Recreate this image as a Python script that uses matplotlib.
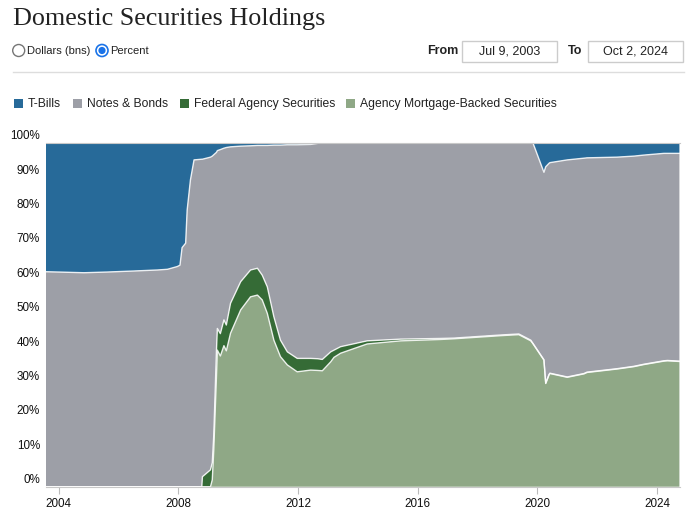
import matplotlib.pyplot as plt
from matplotlib.patches import Rectangle, Circle
from matplotlib.transforms import ScaledTranslation

plt.rcParams["font.family"] = ["Liberation Sans", "DejaVu Sans"]

# Zeitpunkte (Dezimaljahre) und Anteile in Prozent
jahre = [2003.52, 2004.00, 2004.84, 2005.60, 2006.50, 2007.30, 2007.63, 2007.96,
         2008.05, 2008.12, 2008.24, 2008.29, 2008.40, 2008.52, 2008.78, 2008.80,
         2009.07, 2009.13, 2009.18, 2009.27, 2009.30, 2009.40, 2009.52, 2009.60,
         2009.74, 2010.08, 2010.41, 2010.64, 2010.80, 2010.97, 2011.19, 2011.41,
         2011.64, 2011.97, 2012.42, 2012.65, 2012.81, 2013.09, 2013.20, 2013.42,
         2014.31, 2015.43, 2016.77, 2017.21, 2018.77, 2019.38, 2019.78, 2019.85,
         2020.22, 2020.28, 2020.39, 2020.42, 2021.00, 2021.56, 2021.66, 2022.66,
         2023.23, 2023.56, 2024.23, 2024.35, 2024.75]

t_bills = [37.5, 37.6, 37.8, 37.6, 37.3, 37.0, 36.8, 36.0,
           35.6, 30.5, 29.2, 19.6, 10.8, 5.0, 4.8, 4.8,
           4.2, 3.9, 3.5, 2.8, 2.3, 2.0, 1.6, 1.4,
           1.2, 1.0, 0.9, 0.8, 0.8, 0.8, 0.7, 0.7,
           0.6, 0.6, 0.5, 0.2, 0.0, 0.0, 0.0, 0.0,
           0.0, 0.0, 0.0, 0.0, 0.0, 0.0, 0.0, 0.0,
           8.6, 7.0, 6.0, 5.8, 5.0, 4.5, 4.4, 4.2,
           3.9, 3.6, 3.1, 3.1, 3.1]

notes_bonds = [62.5, 62.4, 62.2, 62.4, 62.7, 63.0, 63.2, 64.0,
               64.4, 69.5, 70.8, 80.4, 89.2, 95.0, 95.2, 92.3,
               90.9, 89.1, 81.5, 57.5, 51.7, 53.5, 49.9, 51.6,
               45.5, 39.4, 36.1, 35.7, 37.7, 41.1, 49.9, 56.7,
               60.2, 62.1, 62.2, 62.6, 63.0, 60.8, 60.3, 59.3,
               57.6, 57.1, 56.9, 56.8, 55.9, 55.6, 57.4, 58.3,
               54.5, 62.9, 61.4, 61.2, 63.1, 62.6, 62.3, 61.5,
               61.1, 60.8, 60.3, 60.2, 60.4]

agency = [0, 0, 0, 0, 0, 0, 0, 0,
          0, 0, 0, 0, 0, 0, 0, 2.9,
          4.9, 5.0, 4.3, 7.7, 6.3, 6.5, 7.5, 7.5,
          8.7, 8.2, 7.8, 7.8, 7.2, 7.7, 6.8, 4.8,
          3.8, 3.9, 3.4, 3.4, 3.3, 2.9, 2.1, 1.9,
          0.9, 0.5, 0.3, 0.2, 0.2, 0.2, 0.2, 0.1,
          0.1, 0.1, 0.1, 0.1, 0.1, 0.1, 0.1, 0.1,
          0.1, 0.1, 0.1, 0.1, 0.1]

mbs = [0, 0, 0, 0, 0, 0, 0, 0,
       0, 0, 0, 0, 0, 0, 0, 0,
       0, 2.0, 10.7, 32.0, 39.7, 38.0, 41.0, 39.5,
       44.6, 51.4, 55.2, 55.7, 54.3, 50.4, 42.6, 37.8,
       35.4, 33.4, 33.9, 33.8, 33.7, 36.3, 37.6, 38.8,
       41.5, 42.4, 42.8, 43.0, 43.9, 44.2, 42.4, 41.6,
       36.8, 30.0, 32.5, 32.9, 31.8, 32.8, 33.2, 34.2,
       34.9, 35.5, 36.5, 36.6, 36.4]

namen = ["T-Bills", "Notes & Bonds", "Federal Agency Securities",
         "Agency Mortgage-Backed Securities"]
farben = ["#276a99", "#9d9fa7", "#356b36", "#8fa886"]

tick_jahre = [2004, 2008, 2012, 2016, 2020, 2024]

fig = plt.figure(figsize=(6.96, 5.12), dpi=100)

# Hintergrund-Ebene in Pixelkoordinaten fuer Kopfzeile und Legende
bg = fig.add_axes([0, 0, 1, 1])
bg.set_xlim(0, 696)
bg.set_ylim(512, 0)
bg.axis("off")

bg.text(13, 19, "Domestic Securities Holdings", fontsize=18.8,
        family="Liberation Serif", color="#222222", va="center")

bg.add_patch(Circle((18.7, 50.5), 6, facecolor="white", edgecolor="#767676", lw=1))
bg.text(27, 51, "Dollars (bns)", fontsize=8, va="center", color="#222222")
bg.add_patch(Circle((102, 50.5), 6, facecolor="white", edgecolor="#1a73e8", lw=1.2))
bg.add_patch(Circle((102, 50.5), 3.6, facecolor="#1a73e8", edgecolor="none"))
bg.text(110.5, 51, "Percent", fontsize=8, va="center", color="#222222")

bg.text(427, 51, "From", fontsize=9, weight="bold", va="center", color="#222222")
bg.add_patch(Rectangle((462, 41), 95, 21, facecolor="white", edgecolor="#cccccc", lw=1))
bg.text(509.5, 51.5, "Jul 9, 2003", fontsize=9, ha="center", va="center",
        color="#222222")
bg.text(568, 51, "To", fontsize=9, weight="bold", va="center", color="#222222")
bg.add_patch(Rectangle((588, 41), 95, 21, facecolor="white", edgecolor="#cccccc", lw=1))
bg.text(635.5, 51.5, "Oct 2, 2024", fontsize=9, ha="center", va="center",
        color="#222222")

bg.plot([13, 684], [72, 72], color="#dddddd", lw=1)

legende_x = [14, 73, 180, 346]
for x0, name, farbe in zip(legende_x, namen, farben):
    bg.add_patch(Rectangle((x0, 99), 9, 9, facecolor=farbe, edgecolor="none"))
    bg.text(x0 + 14, 104, name, fontsize=8.7, va="center", color="#222222")

# eigentliches Diagramm
ax = fig.add_axes([46 / 696, 25.3 / 512, 634 / 696, 344 / 512])
ax.stackplot(jahre, mbs, agency, notes_bonds, t_bills,
             colors=farben[::-1], linewidth=0)

unten = [0] * len(jahre)
for reihe in [mbs, agency, notes_bonds]:
    unten = [u + r for u, r in zip(unten, reihe)]
    ax.plot(jahre, unten, color="white", lw=1, alpha=0.85)

ax.set_xlim(2003.57, 2024.77)
ax.set_ylim(0, 100)

ax.set_xticks(tick_jahre)
ax.set_xticklabels([str(j) for j in tick_jahre])
ax.set_yticks(range(0, 101, 10))
ax.set_yticklabels([f"{v}%" for v in range(0, 101, 10)])

ax.tick_params(axis="x", length=5, color="#bbbbbb", labelsize=8.4,
               labelcolor="#111111", pad=3)
ax.tick_params(axis="y", length=0, labelsize=8.4, labelcolor="#111111", pad=4.3)

versatz = ScaledTranslation(0, 8 / 100, fig.dpi_scale_trans)
for label in ax.get_yticklabels():
    label.set_transform(label.get_transform() + versatz)

for seite in ["left", "right"]:
    ax.spines[seite].set_visible(False)
ax.spines["bottom"].set_color("#c8c8c8")
ax.spines["top"].set_color("#c8c8c8")

fig.savefig("out.png", dpi=100)
